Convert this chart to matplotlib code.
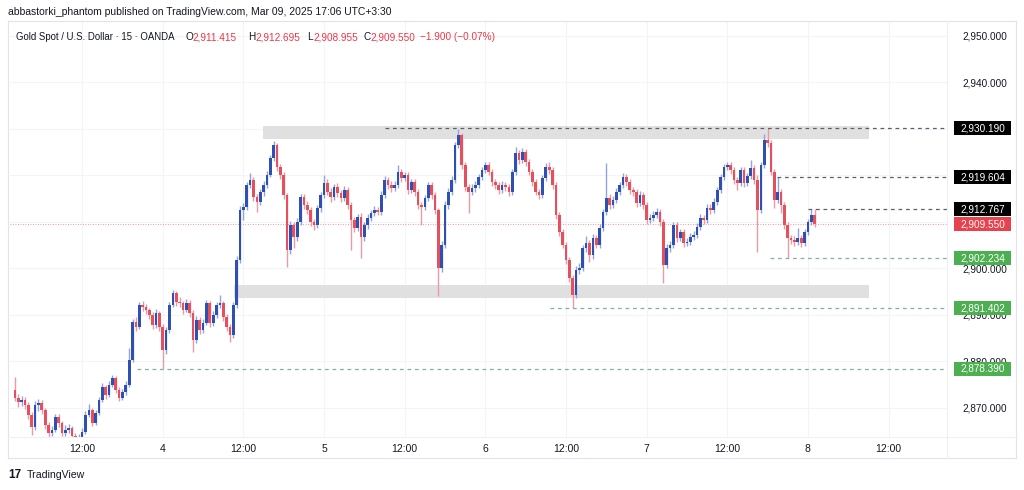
import numpy as np
import pandas as pd
import matplotlib
matplotlib.use("Agg")
import matplotlib.pyplot as plt
import matplotlib.dates as mdates
from matplotlib.patches import Rectangle
from matplotlib.transforms import blended_transform_factory
from matplotlib.lines import Line2D

plt.rcParams['font.family'] = ['Liberation Sans', 'DejaVu Sans']

# ---------------- data ----------------
header = "abbastorki_phantom published on TradingView.com, Mar 09, 2025 17:06 UTC+3:30"
symbol = "Gold Spot / U.S. Dollar · 15 · OANDA"
legend_keys = ["O", "H", "L", "C"]
legend_vals = ["2,911.415", "2,912.695", "2,908.955", "2,909.550"]
change_text = "−1.900 (−0.07%)"

start_time = "2025-03-03 02:00"
bar_freq = "30min"
first_open = 2873.9

closes = [
    2872.2, 2871.3, 2871.7, 2870.6, 2868.5, 2865.9, 2870.6, 2871.1, 2869.6, 2866.3,
    2864.6, 2865.3, 2868.1, 2866.8, 2864.6, 2865.3, 2865.7, 2864.0, 2863.1, 2863.6,
    2864.8, 2868.5, 2869.6, 2866.8, 2868.9, 2871.7, 2874.5, 2872.8, 2875.0, 2876.5,
    2873.9, 2872.2, 2873.4, 2875.0, 2880.3, 2888.5, 2887.4, 2892.2, 2891.7, 2891.1,
    2890.0, 2887.8, 2890.4, 2887.4, 2882.5, 2886.8, 2892.2, 2894.7, 2892.8, 2892.6,
    2891.1, 2892.6, 2890.4, 2884.6, 2888.9, 2886.8, 2888.3, 2892.6, 2888.3, 2890.0,
    2892.2, 2892.6, 2889.6, 2887.4, 2885.7, 2892.2, 2901.8, 2912.6, 2913.2, 2918.0,
    2919.0, 2915.4, 2914.3, 2916.5, 2918.0, 2920.1, 2923.8, 2926.6, 2921.8, 2920.1,
    2915.8, 2904.0, 2909.4, 2906.8, 2910.0, 2915.4, 2913.7, 2912.6, 2910.0, 2909.4,
    2913.0, 2915.8, 2918.4, 2916.5, 2915.4, 2917.5, 2916.2, 2915.2, 2916.9, 2913.7,
    2910.4, 2908.7, 2911.1, 2906.8, 2909.4, 2910.9, 2911.9, 2912.6, 2912.2, 2915.8,
    2919.0, 2918.0, 2917.3, 2918.0, 2920.8, 2919.5, 2920.1, 2916.9, 2918.6, 2916.5,
    2913.7, 2913.2, 2915.2, 2918.0, 2915.8, 2912.6, 2900.1, 2905.1, 2913.7, 2916.5,
    2919.0, 2926.6, 2928.7, 2922.3, 2917.5, 2916.5, 2917.3, 2918.0, 2919.7, 2921.2,
    2922.3, 2920.8, 2918.6, 2918.0, 2916.9, 2918.0, 2917.5, 2916.5, 2920.8, 2924.8,
    2923.3, 2925.1, 2922.9, 2920.8, 2918.6, 2916.5, 2915.8, 2919.5, 2921.8, 2921.2,
    2918.0, 2911.5, 2907.8, 2905.1, 2901.8, 2898.0, 2894.3, 2899.7, 2900.1, 2904.4,
    2905.5, 2902.9, 2906.6, 2905.1, 2908.7, 2912.2, 2915.2, 2913.7, 2914.7, 2916.5,
    2918.0, 2919.7, 2918.6, 2916.9, 2916.5, 2914.1, 2915.8, 2913.7, 2910.4, 2910.9,
    2911.5, 2912.2, 2910.0, 2900.8, 2904.4, 2905.1, 2909.4, 2906.6, 2907.8, 2905.5,
    2905.7, 2906.8, 2907.2, 2908.9, 2910.9, 2910.4, 2913.0, 2912.6, 2914.3, 2916.9,
    2919.7, 2921.8, 2922.3, 2921.2, 2919.0, 2918.4, 2921.2, 2918.4, 2919.9, 2921.6,
    2919.0, 2912.6, 2922.3, 2927.6, 2927.0, 2920.8, 2914.7, 2916.5, 2913.7, 2909.4,
    2906.6, 2906.1, 2905.7, 2906.6, 2905.5, 2907.8, 2910.0, 2911.415, 2909.55,
]

highs = [
    2876.7, 2873.0, 2872.6, 2872.4, 2871.2, 2869.1, 2871.6, 2871.9, 2871.7, 2870.0,
    2866.9, 2866.2, 2868.8, 2868.6, 2867.3, 2866.4, 2866.5, 2866.1, 2864.6, 2864.5,
    2865.6, 2869.3, 2870.9, 2870.1, 2869.6, 2872.4, 2875.3, 2875.0, 2875.8, 2877.1,
    2876.9, 2874.5, 2874.1, 2875.9, 2882.9, 2889.2, 2889.6, 2892.9, 2893.0, 2892.4,
    2891.6, 2890.6, 2891.2, 2890.9, 2888.0, 2887.5, 2892.9, 2895.4, 2895.1, 2893.8,
    2893.1, 2893.4, 2893.2, 2891.0, 2889.7, 2889.6, 2889.1, 2893.3, 2893.0, 2890.8,
    2892.9, 2894.3, 2893.1, 2890.2, 2888.0, 2892.9, 2902.6, 2913.4, 2914.1, 2918.7,
    2920.6, 2919.6, 2916.0, 2917.2, 2918.8, 2920.9, 2924.5, 2927.4, 2927.0, 2922.5,
    2920.7, 2916.3, 2910.2, 2910.0, 2910.8, 2916.1, 2916.0, 2914.5, 2913.2, 2910.6,
    2913.7, 2916.5, 2920.1, 2919.2, 2917.3, 2918.2, 2918.4, 2916.9, 2917.8, 2917.5,
    2914.3, 2911.1, 2911.8, 2911.9, 2910.1, 2911.7, 2912.6, 2913.4, 2913.3, 2916.6,
    2919.8, 2919.7, 2918.8, 2918.9, 2922.3, 2921.4, 2920.8, 2920.7, 2919.3, 2919.2,
    2917.1, 2914.4, 2915.9, 2918.7, 2918.6, 2916.4, 2913.1, 2905.9, 2914.5, 2917.3,
    2919.8, 2927.3, 2929.9, 2929.2, 2922.9, 2918.2, 2918.1, 2918.8, 2920.4, 2921.9,
    2923.0, 2922.9, 2921.4, 2919.3, 2918.7, 2918.8, 2918.7, 2918.2, 2921.5, 2926.1,
    2925.4, 2925.9, 2925.7, 2923.6, 2921.5, 2919.3, 2917.2, 2920.2, 2922.6, 2922.9,
    2921.9, 2918.7, 2912.2, 2908.5, 2905.8, 2902.5, 2898.7, 2900.5, 2901.2, 2905.1,
    2906.9, 2906.2, 2907.4, 2907.3, 2909.5, 2912.9, 2922.7, 2916.0, 2915.5, 2917.3,
    2918.7, 2920.6, 2920.4, 2919.3, 2917.6, 2917.2, 2916.6, 2916.5, 2914.4, 2911.8,
    2912.3, 2913.0, 2912.9, 2910.7, 2905.2, 2906.0, 2910.1, 2910.0, 2908.6, 2908.5,
    2906.6, 2907.6, 2908.0, 2909.7, 2911.7, 2911.6, 2913.8, 2913.9, 2915.1, 2917.6,
    2920.4, 2922.5, 2923.0, 2922.9, 2921.9, 2919.7, 2921.9, 2921.8, 2920.6, 2923.3,
    2922.3, 2920.0, 2923.0, 2929.0, 2930.19, 2927.6, 2921.4, 2919.604, 2917.1, 2914.3,
    2910.0, 2907.3, 2906.9, 2908.7, 2907.2, 2908.5, 2910.7, 2912.767, 2912.695,
]

lows = [
    2871.5, 2870.2, 2870.4, 2869.8, 2867.6, 2864.2, 2865.2, 2869.4, 2868.6, 2865.4,
    2863.8, 2863.9, 2864.9, 2865.9, 2863.9, 2864.0, 2864.6, 2863.3, 2862.2, 2862.6,
    2863.0, 2864.4, 2868.0, 2866.1, 2866.3, 2868.5, 2871.2, 2872.0, 2872.4, 2874.5,
    2873.2, 2871.4, 2871.8, 2872.9, 2874.6, 2879.8, 2886.5, 2887.0, 2890.9, 2890.2,
    2889.2, 2887.0, 2887.3, 2886.6, 2878.39, 2881.6, 2886.2, 2891.8, 2892.0, 2891.7,
    2890.2, 2890.6, 2889.5, 2882.0, 2884.0, 2886.0, 2886.1, 2887.8, 2887.5, 2887.7,
    2889.4, 2891.6, 2888.8, 2886.6, 2884.2, 2885.1, 2891.6, 2901.2, 2910.4, 2912.5,
    2917.3, 2914.6, 2912.2, 2913.6, 2915.5, 2917.4, 2919.6, 2923.1, 2921.0, 2919.3,
    2915.0, 2900.3, 2903.2, 2904.4, 2906.0, 2909.3, 2912.8, 2911.7, 2909.2, 2908.3,
    2908.7, 2912.2, 2915.1, 2915.7, 2914.3, 2914.7, 2915.4, 2914.3, 2914.6, 2912.9,
    2903.9, 2907.8, 2908.0, 2902.3, 2906.0, 2908.6, 2910.2, 2911.2, 2911.4, 2911.5,
    2915.1, 2917.2, 2916.4, 2916.6, 2917.3, 2918.7, 2918.8, 2916.0, 2916.2, 2915.6,
    2912.9, 2909.4, 2912.5, 2914.6, 2915.0, 2911.8, 2894.1, 2899.2, 2904.4, 2912.9,
    2915.8, 2918.3, 2925.9, 2921.5, 2916.7, 2912.0, 2915.7, 2916.5, 2917.3, 2919.0,
    2920.5, 2920.0, 2917.8, 2917.2, 2916.1, 2916.2, 2916.7, 2915.5, 2915.9, 2920.1,
    2922.5, 2922.6, 2922.1, 2920.0, 2917.8, 2915.7, 2914.9, 2915.1, 2918.8, 2920.4,
    2917.2, 2910.7, 2907.0, 2904.3, 2901.0, 2897.2, 2891.402, 2893.6, 2898.9, 2899.4,
    2903.6, 2901.4, 2902.1, 2904.3, 2904.4, 2908.0, 2911.5, 2912.9, 2913.0, 2914.0,
    2915.8, 2917.3, 2917.8, 2916.1, 2915.5, 2913.3, 2913.4, 2912.9, 2909.6, 2909.7,
    2910.2, 2910.8, 2909.2, 2896.9, 2900.0, 2903.6, 2904.4, 2905.8, 2905.9, 2904.7,
    2904.8, 2905.0, 2906.1, 2906.5, 2908.2, 2909.6, 2909.7, 2911.8, 2911.9, 2913.6,
    2916.2, 2919.0, 2921.1, 2920.4, 2918.2, 2916.9, 2917.7, 2917.6, 2917.8, 2919.2,
    2918.2, 2903.6, 2911.9, 2921.6, 2926.2, 2920.0, 2913.0, 2914.0, 2911.9, 2908.6,
    2902.234, 2905.2, 2904.8, 2905.0, 2904.6, 2904.9, 2907.1, 2909.4, 2908.955,
]

x_tick_times = ["2025-03-03 12:00", "2025-03-04 00:00", "2025-03-04 12:00", "2025-03-05 00:00",
                "2025-03-05 12:00", "2025-03-06 00:00", "2025-03-06 12:00", "2025-03-07 00:00",
                "2025-03-07 12:00", "2025-03-08 00:00", "2025-03-08 12:00"]
x_tick_labels = ["12:00", "4", "12:00", "5", "12:00", "6", "12:00", "7", "12:00", "8", "12:00"]
y_ticks = [2870, 2880, 2890, 2900, 2910, 2920, 2930, 2940, 2950]
# tick labels hidden behind the marked-price boxes in the reference
y_hidden = [2910, 2920, 2930]

# marked levels: (price, line start time)
dark_levels = [2930.190, 2919.604, 2912.767]
dark_starts = ["2025-03-05 09:05", "2025-03-07 19:25", "2025-03-08 00:00"]
green_levels = [2902.234, 2891.402, 2878.390]
green_starts = ["2025-03-07 18:20", "2025-03-06 09:35", "2025-03-03 20:10"]
last_price = 2909.550

# grey zones: (low, high, start, end)
zone_lows = [2927.85, 2893.65]
zone_highs = [2930.60, 2896.45]
zone_starts = ["2025-03-04 14:55", "2025-03-04 10:40"]
zone_ends = ["2025-03-08 09:10", "2025-03-08 09:10"]

x_min, x_max = "2025-03-03 01:16", "2025-03-08 20:42"
y_min, y_max = 2863.76, 2953.01

# ---------------- styles ----------------
UP, DN = "#2e4fb3", "#e6505d"
UP_W, DN_W = "#93a5d8", "#eb9aa2"
TXT = "#131722"
RED = "#f23645"
GREEN_BOX = "#4caf50"
GREEN_LINE = "#7fb39c"
DARK_LINE = "#5d606b"

W, H = 1024, 490
fig = plt.figure(figsize=(W / 100, H / 100), dpi=100)
fig.patch.set_facecolor("white")

L_PX, R_PX, T_PX, B_PX = 10, 947, 22, 437
ax = fig.add_axes([L_PX / W, 1 - B_PX / H, (R_PX - L_PX) / W, (B_PX - T_PX) / H])
ax.set_facecolor("white")

t = pd.date_range(start_time, periods=len(closes), freq=bar_freq)
x = mdates.date2num(t.to_pydatetime())
c = np.array(closes)
o = np.concatenate([[first_open], c[:-1]])
hi = np.array(highs)
lo = np.array(lows)
up = c >= o

# zones
for zl, zh, zs, ze in zip(zone_lows, zone_highs, zone_starts, zone_ends):
    xs, xe = mdates.date2num(pd.Timestamp(zs)), mdates.date2num(pd.Timestamp(ze))
    ax.add_patch(Rectangle((xs, zl), xe - xs, zh - zl, facecolor="#e0e0e0",
                           edgecolor="none", zorder=1))

# wicks
ax.vlines(x, lo, hi, colors=np.where(up, UP_W, DN_W), linewidth=1.0, zorder=3)
# bodies
bar_w = 0.8 / 48
body_h = np.maximum(np.abs(c - o), 0.25)
ax.bar(x, body_h, bottom=np.minimum(o, c), width=bar_w,
       color=np.where(up, UP, DN), linewidth=0, zorder=4)

xmax_num = mdates.date2num(pd.Timestamp(x_max))
for lv, st in zip(dark_levels, dark_starts):
    xs = mdates.date2num(pd.Timestamp(st))
    ax.plot([xs, xmax_num], [lv, lv], color=DARK_LINE, lw=0.9, ls=(0, (3, 3)), zorder=5)
for lv, st in zip(green_levels, green_starts):
    xs = mdates.date2num(pd.Timestamp(st))
    ax.plot([xs, xmax_num], [lv, lv], color=GREEN_LINE, lw=0.9, ls=(0, (3, 3)), zorder=5)
ax.axhline(last_price, color=RED, lw=0.6, ls=(0, (1, 2)), alpha=0.7, zorder=2)

ax.set_xlim(mdates.date2num(pd.Timestamp(x_min)), xmax_num)
ax.set_ylim(y_min, y_max)

ax.set_xticks([mdates.date2num(pd.Timestamp(s)) for s in x_tick_times])
ax.set_xticklabels(x_tick_labels)
ax.yaxis.tick_right()
ax.set_yticks(y_ticks)
ax.set_yticklabels(["" if v in y_hidden else f"{v:,.3f}" for v in y_ticks])
ax.tick_params(axis="x", length=0, pad=5, labelsize=7.5, labelcolor=TXT)
ax.tick_params(axis="y", length=0, pad=11, labelsize=7.2, labelcolor=TXT)
ax.grid(True, color="#f2f4f8", linewidth=0.8, zorder=0)
ax.set_axisbelow(True)
for s in ax.spines.values():
    s.set_visible(False)

# price labels on the scale
trans = blended_transform_factory(ax.transAxes, ax.transData)
ax_w_px = R_PX - L_PX
box_x0 = (954 - L_PX) / ax_w_px
box_w = 57 / ax_w_px
box_h = 14 / ((B_PX - T_PX) / (y_max - y_min))
txt_x = (982.5 - L_PX) / ax_w_px


def price_box(val, color):
    ax.add_patch(Rectangle((box_x0, val - box_h / 2), box_w, box_h, transform=trans,
                           facecolor=color, edgecolor="none", clip_on=False, zorder=20))
    ax.text(txt_x, val, f"{val:,.3f}", transform=trans, ha="center", va="center",
            color="white", fontsize=7.2, clip_on=False, zorder=21)


for lv in dark_levels:
    price_box(lv, "#000000")
price_box(last_price, "#e8424f")
for lv in green_levels:
    price_box(lv, GREEN_BOX)

# frame lines
def fig_line(x0, y0, x1, y1, color="#e0e3eb", lw=0.8):
    fig.add_artist(Line2D([x0 / W, x1 / W], [1 - y0 / H, 1 - y1 / H], color=color, lw=lw))

fig_line(8, 21, 1016, 21)
fig_line(8, 458, 1016, 458)
fig_line(8, 21, 8, 458)
fig_line(1016, 21, 1016, 458)
fig_line(8, 437, 1016, 437, color="#eef0f4")
fig_line(947, 21, 947, 458, color="#eef0f4")

# header texts
def ftext(px, py, s, **kw):
    fig.text(px / W, 1 - py / H, s, va="center", ha="left", **kw)

ftext(8, 12, header, fontsize=7.5, color=TXT)
ftext(16, 37, symbol, fontsize=6.9, color=TXT)
key_x = [185, 248, 307, 363]
val_x = [192, 255, 313, 370]
for k, kx, v, vx in zip(legend_keys, key_x, legend_vals, val_x):
    ftext(kx, 37, k, fontsize=7.2, color=TXT)
    ftext(vx, 37, v, fontsize=7.2, color=RED)
ftext(420, 37, change_text, fontsize=7.2, color=RED)

# footer logo
ftext(8, 475, "17", fontsize=8.5, color=TXT, fontweight="bold")
ftext(27, 475, "TradingView", fontsize=7.6, color=TXT)

fig.savefig("out.png", dpi=100, facecolor="white")
